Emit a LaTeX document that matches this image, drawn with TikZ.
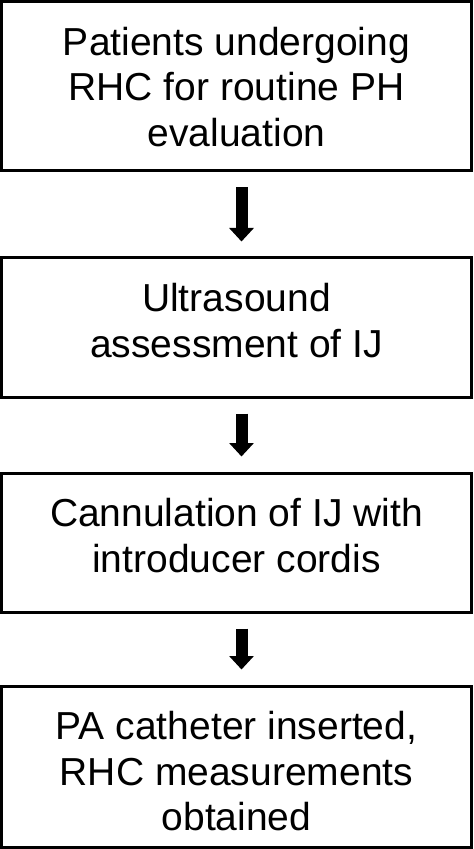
\documentclass[tikz,border=0pt]{standalone}
\usepackage{fontspec}
\setmainfont{Liberation Sans}
\usetikzlibrary{arrows.meta}

\begin{document}
\begin{tikzpicture}[
    box/.style={draw, line width=0.06cm, minimum width=9.4cm, inner sep=0pt},
    txt/.style={anchor=north, yshift=-0.53cm, inner sep=0pt, align=center, font=\fontsize{22.2pt}{25.9pt}\selectfont},
    flow/.style={-{Triangle[width=0.48cm, length=0.27cm]}, line width=0.24cm, shorten <=0.3cm, shorten >=0.3cm}]
\useasboundingbox (0, 0) rectangle (9.46, -16.98);

\node [box, minimum height=3.39cm, label={[txt]north:{Patients undergoing\\RHC for routine PH\\evaluation}}] (patients) at (4.73, -1.725) {};
\node [box, minimum height=2.78cm, label={[txt]north:{Ultrasound\\assessment of IJ}}] (ultrasound) at (4.73, -6.55) {};
\node [box, minimum height=2.78cm, label={[txt]north:{Cannulation of IJ with\\introducer cordis}}] (cannulation) at (4.73, -10.85) {};
\node [box, minimum height=3.23cm, label={[txt]north:{PA catheter inserted,\\RHC measurements\\obtained}}] (catheter) at (4.73, -15.335) {};

\draw [flow] ([xshift=0.1cm]patients.south) -- ([xshift=0.1cm]ultrasound.north);
\draw [flow] ([xshift=0.1cm]ultrasound.south) -- ([xshift=0.1cm]cannulation.north);
\draw [flow] ([xshift=0.1cm]cannulation.south) -- ([xshift=0.1cm]catheter.north);
\end{tikzpicture}
\end{document}
